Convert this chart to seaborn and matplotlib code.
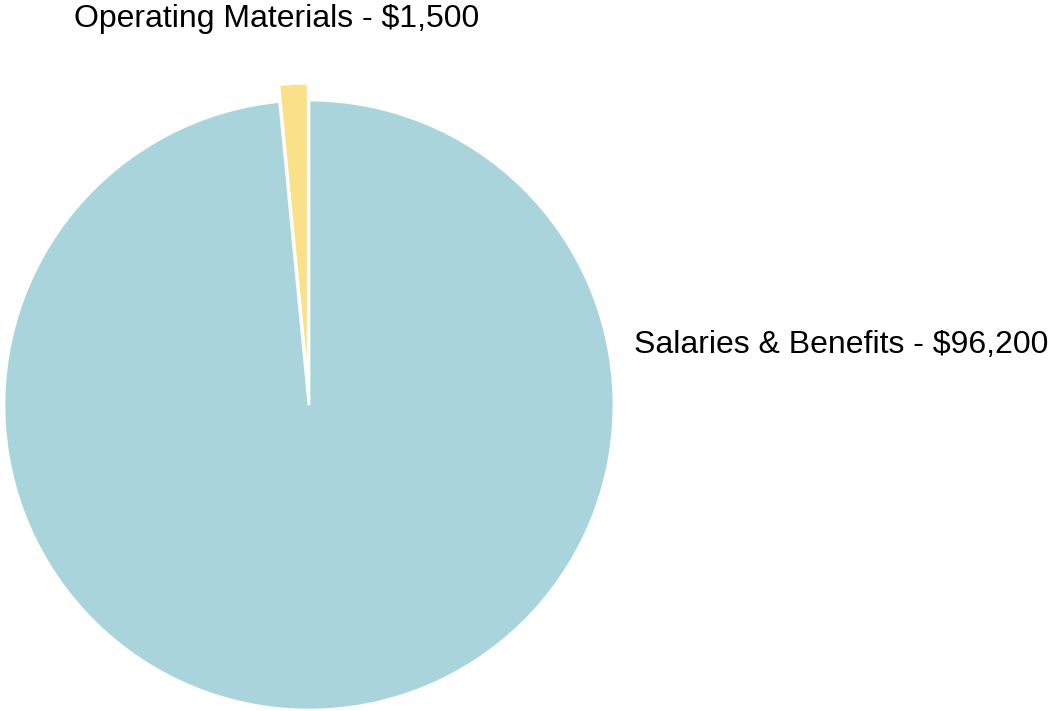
import matplotlib
matplotlib.use("Agg")
import matplotlib.pyplot as plt
import seaborn as sns

categories = ["Salaries & Benefits", "Operating Materials"]
amounts = [96200, 1500]
colors = ["#aad4db", "#fbe08a"]

sns.set_theme(style="white")
plt.rcParams["font.family"] = ["Liberation Sans", "DejaVu Sans"]

fig = plt.figure(figsize=(10.48, 7.11), dpi=100)
ax = fig.add_axes([0, 0, 1, 1])

explode = [0, 0.055]
ax.pie(amounts, colors=colors, startangle=90, counterclock=False,
       explode=explode, radius=1.0,
       wedgeprops=dict(edgecolor="white", linewidth=2))

ax.set_xlim(-1.013, 2.423)
ax.set_ylim(-1.003, 1.328)
ax.set_aspect("auto")
ax.axis("off")

labels = [f"{c} - ${v:,}" for c, v in zip(categories, amounts)]
ax.text(1.066, 0.197, labels[0], ha="left", va="center", fontsize=23, color="black")
ax.text(-0.105, 1.266, labels[1], ha="center", va="center", fontsize=23, color="black")

fig.savefig("out.png", dpi=100, facecolor="white")
